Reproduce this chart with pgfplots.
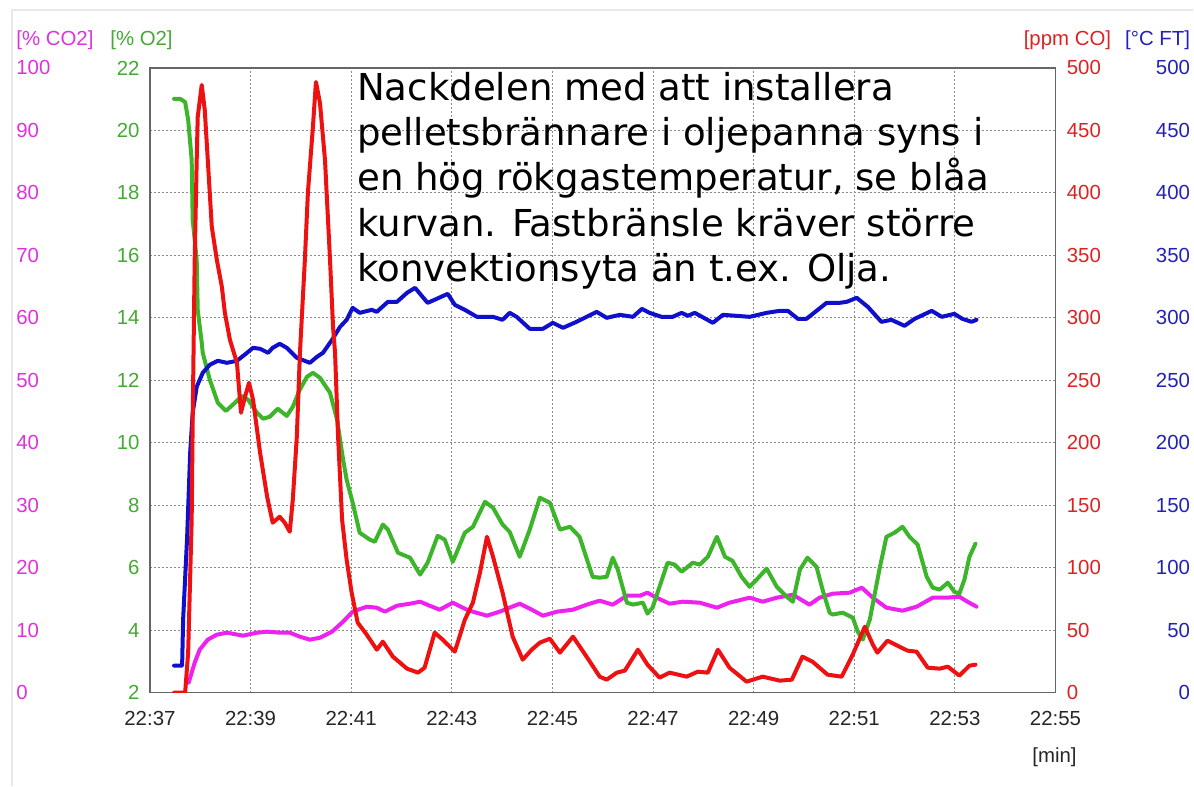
\documentclass[border=0pt]{standalone}
\usepackage{pgfplots}
\pgfplotsset{compat=1.18}
\usepackage{fontspec}
\setmainfont{Liberation Sans}
\newfontfamily\dejavu{DejaVu Sans}
\definecolor{cmag}{HTML}{EE22EE}
\definecolor{cgreen}{HTML}{3DB52B}
\definecolor{cred}{HTML}{EE1111}
\definecolor{cblue}{HTML}{1010CC}
\definecolor{lmag}{HTML}{DD33DD}
\definecolor{lgreen}{HTML}{44AA33}
\definecolor{lred}{HTML}{DD2222}
\definecolor{lblue}{HTML}{2222BB}
\definecolor{gridc}{HTML}{8A8A8A}
\definecolor{framec}{HTML}{666666}
\definecolor{pagec}{HTML}{E4EAF0}
\pgfplotsset{
  base/.style={
    width=453pt, height=312.5pt, scale only axis,
    xmin=0, xmax=18,
    major tick length=0pt,
    tick label style={font=\fontsize{10.2pt}{12pt}\selectfont},
    /pgf/number format/assume math mode=true,
    /pgf/number format/fixed,
  },
  over/.style={base, xtick=\empty, axis line style={draw=none}},
  curve/.style={line width=2pt, line join=round, line cap=round, no markers},
}
\begin{document}
\begin{tikzpicture}
\path[fill=white] (-75pt,-46.5pt) rectangle (522pt,346.5pt);
\draw[pagec, line width=0.6pt] (-69pt,-46.5pt) -- (-69pt,341.5pt) -- (522pt,341.5pt);
% CO2 axis with grid and frame
\begin{axis}[base,
  ymin=0, ymax=100, ytick={0,10,...,100},
  xtick={0,2,...,18},
  xticklabels={22:37,22:39,22:41,22:43,22:45,22:47,22:49,22:51,22:53,22:55},
  xticklabel style={inner sep=0pt, yshift=-9pt, text=black!85},
  grid=major, grid style={gridc, line width=0.5pt, dash pattern=on 1pt off 1pt},
  axis line style={framec, line width=0.8pt},
  yticklabel pos=left,
  yticklabel style={anchor=west, inner sep=0pt, xshift=-67pt, text=lmag},
]
\addplot[curve, cmag] coordinates {(0.77,1.6)(0.89,4.8)(0.99,6.88)(1.15,8.48)(1.33,9.28)(1.53,9.6)(1.85,9.12)(2.13,9.6)(2.33,9.76)(2.58,9.6)(2.78,9.6)(2.98,8.96)(3.18,8.48)(3.38,8.8)(3.62,9.76)(3.84,11.36)(4.03,12.96)(4.31,13.76)(4.51,13.6)(4.67,12.96)(4.91,13.92)(5.17,14.24)(5.37,14.56)(5.56,13.92)(5.76,13.28)(6.02,14.4)(6.30,13.28)(6.42,12.96)(6.70,12.32)(6.95,12.96)(7.15,13.6)(7.35,14.24)(7.59,13.28)(7.81,12.32)(8.09,12.96)(8.41,13.28)(8.68,14.08)(8.94,14.72)(9.20,14.08)(9.48,15.52)(9.74,15.52)(9.89,16.0)(10.07,15.2)(10.33,14.24)(10.59,14.56)(10.93,14.4)(11.27,13.6)(11.52,14.4)(11.92,15.2)(12.18,14.56)(12.46,15.2)(12.78,15.68)(13.11,14.08)(13.31,15.2)(13.57,15.84)(13.91,16.0)(14.15,16.8)(14.37,15.2)(14.64,13.6)(14.96,13.12)(15.24,13.76)(15.56,15.2)(15.84,15.2)(16.09,15.36)(16.25,14.56)(16.43,13.76)};
\end{axis}
% O2 axis
\begin{axis}[over,
  ymin=2, ymax=22, ytick={2,4,...,22},
  yticklabel pos=left,
  yticklabel style={anchor=east, inner sep=0pt, xshift=-5pt, text=lgreen},
]
\addplot[curve, cgreen] coordinates {(0.48,21.01)(0.60,21.01)(0.70,20.91)(0.76,20.34)(0.83,19.06)(0.85,17.14)(0.93,15.86)(0.95,14.26)(1.03,13.2)(1.05,12.88)(1.19,12.02)(1.35,11.28)(1.51,11.02)(1.69,11.28)(1.83,11.50)(1.95,11.38)(2.13,10.96)(2.25,10.77)(2.38,10.83)(2.54,11.09)(2.72,10.86)(2.84,11.15)(2.98,11.70)(3.12,12.11)(3.24,12.24)(3.38,12.08)(3.58,11.6)(3.72,10.74)(3.84,9.46)(3.91,8.82)(4.03,8.08)(4.17,7.12)(4.37,6.90)(4.47,6.83)(4.63,7.38)(4.73,7.22)(4.93,6.48)(5.17,6.32)(5.37,5.78)(5.52,6.16)(5.72,7.02)(5.86,6.90)(6.02,6.19)(6.26,7.12)(6.42,7.31)(6.66,8.11)(6.82,7.92)(7.01,7.38)(7.15,7.15)(7.35,6.35)(7.55,7.22)(7.75,8.24)(7.95,8.08)(8.15,7.22)(8.35,7.31)(8.54,6.99)(8.80,5.71)(8.94,5.68)(9.08,5.71)(9.20,6.32)(9.30,5.94)(9.48,4.88)(9.60,4.82)(9.80,4.88)(9.89,4.53)(9.99,4.72)(10.29,6.16)(10.43,6.10)(10.57,5.87)(10.79,6.16)(10.93,6.10)(11.09,6.35)(11.27,6.99)(11.43,6.35)(11.58,6.22)(11.76,5.71)(11.92,5.39)(12.06,5.62)(12.26,5.97)(12.46,5.39)(12.66,5.07)(12.78,4.91)(12.92,5.94)(13.07,6.32)(13.25,6.03)(13.37,5.30)(13.51,4.56)(13.57,4.50)(13.77,4.56)(13.97,4.40)(14.07,3.95)(14.17,3.70)(14.31,4.34)(14.50,5.94)(14.64,6.99)(14.80,7.12)(14.96,7.31)(15.10,6.99)(15.26,6.74)(15.44,5.71)(15.56,5.36)(15.70,5.30)(15.86,5.52)(15.99,5.23)(16.09,5.17)(16.19,5.62)(16.29,6.35)(16.41,6.77)};
\end{axis}
% FT axis
\begin{axis}[over,
  ymin=0, ymax=500, ytick={0,50,...,500},
  yticklabel pos=right,
  yticklabel style={anchor=east, inner sep=0pt, xshift=67.5pt, text=lblue},
]
\addplot[curve, cblue] coordinates {(0.48,21.6)(0.64,21.6)(0.66,58.4)(0.74,124.8)(0.80,192)(0.85,224)(0.93,244.8)(1.05,256)(1.19,262.4)(1.35,265.6)(1.53,264)(1.73,265.6)(1.93,272)(2.05,276)(2.19,275.2)(2.35,272)(2.44,276)(2.58,279.2)(2.72,276)(2.92,268)(3.18,264)(3.32,268.8)(3.44,272)(3.62,282.4)(3.78,292.8)(3.91,298.4)(4.03,308)(4.17,304)(4.41,306.4)(4.51,304.8)(4.73,312.8)(4.91,312.8)(5.11,320)(5.27,324)(5.52,312)(5.70,315.2)(5.92,319.2)(6.06,310.4)(6.26,306.4)(6.50,300.8)(6.82,300.8)(7.01,298.4)(7.15,304)(7.29,300.8)(7.55,291.2)(7.81,291.2)(8.01,296)(8.21,292)(8.48,296.8)(8.88,304.8)(9.08,300)(9.34,302.4)(9.60,300.8)(9.78,307.2)(9.93,304)(10.17,300.8)(10.39,300.8)(10.57,304)(10.69,301.6)(10.83,304)(11.19,296)(11.39,302.4)(11.66,301.6)(11.92,300.8)(12.26,304)(12.52,305.6)(12.68,305.6)(12.88,299.2)(13.05,299.2)(13.25,305.6)(13.45,312)(13.71,312)(13.85,312.8)(14.05,316)(14.27,308.8)(14.54,296.8)(14.74,298.4)(15.00,293.6)(15.20,299.2)(15.54,305.6)(15.74,300.8)(15.99,303.2)(16.15,299.2)(16.33,296.8)(16.43,298.4)};
\end{axis}
% CO axis
\begin{axis}[over,
  ymin=0, ymax=500, ytick={0,50,...,500},
  yticklabel pos=right,
  yticklabel style={anchor=west, inner sep=0pt, xshift=5.5pt, text=lred},
]
\addplot[curve, cred] coordinates {(0.48,0)(0.70,0)(0.76,32)(0.83,138.4)(0.85,218.4)(0.89,346.4)(0.93,426.4)(0.95,460.8)(1.03,486.4)(1.09,466.4)(1.15,426.4)(1.23,372.8)(1.33,346.4)(1.43,324.8)(1.49,304)(1.59,282.4)(1.73,264)(1.81,224)(1.89,236.8)(1.97,248)(2.05,234.4)(2.19,192)(2.33,156.8)(2.44,136)(2.58,140.8)(2.68,136)(2.78,128.8)(2.84,154.4)(2.92,204.8)(2.98,270.4)(3.08,346.4)(3.14,400)(3.24,452.8)(3.30,488.8)(3.38,472)(3.48,426.4)(3.58,346.4)(3.64,292.8)(3.68,272)(3.74,204.8)(3.82,138.4)(3.91,106.4)(4.01,80)(4.13,56)(4.31,46.4)(4.51,34.4)(4.63,40.8)(4.83,28.8)(5.11,19.2)(5.33,16)(5.46,20)(5.66,48)(5.82,42.4)(6.06,32.8)(6.26,58.4)(6.42,72)(6.56,96)(6.70,124.8)(6.82,108.8)(7.01,80)(7.21,44.8)(7.41,26.4)(7.59,34.4)(7.75,40)(7.95,43.2)(8.15,32)(8.41,44.8)(8.68,28.8)(8.94,12.8)(9.08,10.4)(9.28,16)(9.44,17.6)(9.70,34.4)(9.89,22.4)(10.13,12)(10.33,16)(10.67,12.8)(10.89,16.8)(11.09,16)(11.29,34.4)(11.52,20)(11.86,8.8)(12.18,12.8)(12.52,9.6)(12.76,10.4)(12.97,28.8)(13.17,24.8)(13.47,14.4)(13.75,12.8)(13.97,30.4)(14.21,52.8)(14.37,38.4)(14.46,32)(14.66,41.6)(14.86,37.6)(15.06,33.6)(15.24,32.8)(15.46,20)(15.70,19.2)(15.86,20.8)(16.09,13.6)(16.29,21.6)(16.41,22.4)};
\end{axis}
\begin{scope}[every node/.style={inner sep=0pt, font=\fontsize{10.2pt}{12pt}\selectfont}]
\node[anchor=west, text=lmag] at (-67pt,326.5pt) {[\% CO2]};
\node[anchor=west, text=lgreen] at (-20pt,326.5pt) {[\% O2]};
\node[anchor=east, text=lred] at (481pt,326.5pt) {[ppm CO]};
\node[anchor=east, text=lblue] at (520.5pt,326.5pt) {[°C FT]};
\node[text=black!85] at (452.5pt,-32.5pt) {[min]};
\end{scope}
\node[anchor=north west, inner sep=0pt, align=left, font=\dejavu\fontsize{18.55pt}{22.6pt}\selectfont] at (103.5pt,310.5pt)
  {Nackdelen med att installera\\pelletsbrännare i oljepanna syns i\\en hög rökgastemperatur, se blåa\\kurvan. Fastbränsle kräver större\\konvektionsyta än t.ex. Olja.};
\end{tikzpicture}
\end{document}
